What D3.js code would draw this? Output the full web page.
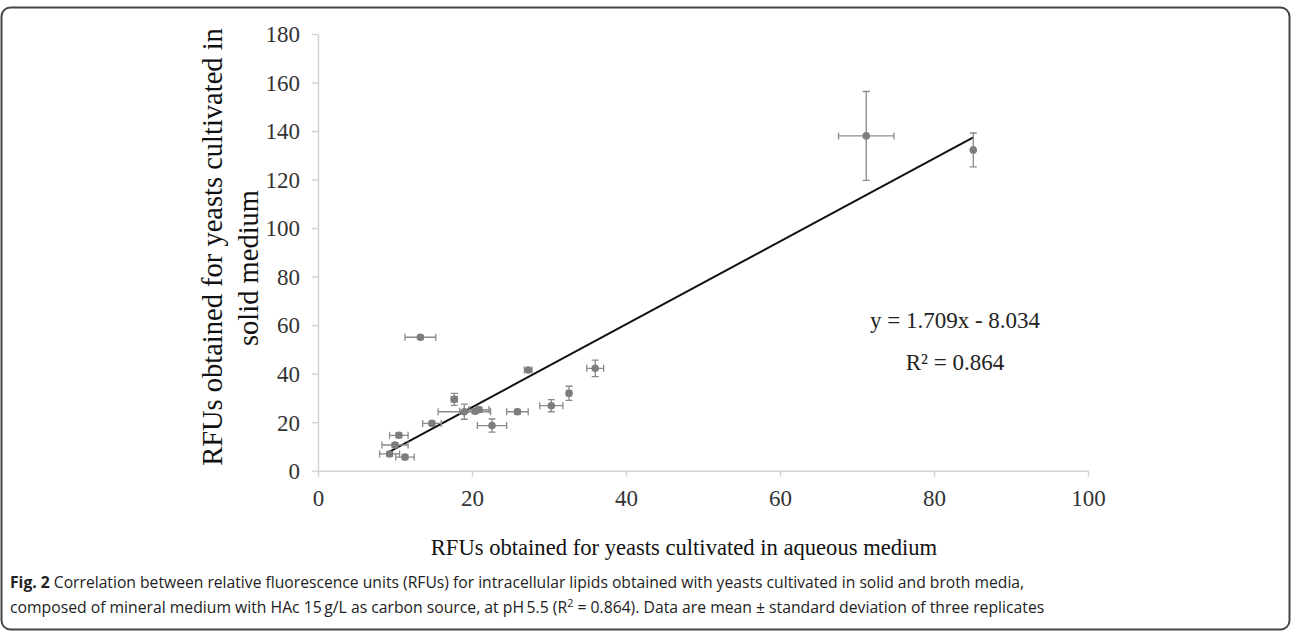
<!DOCTYPE html>
<html>
<head>
<meta charset="utf-8">
<script src="https://cdn.jsdelivr.net/npm/d3@7/dist/d3.min.js"></script>
<style>
  body { margin: 0; background: #fff; }
  svg { display: block; }
</style>
</head>
<body>
<svg id="chart" width="1292" height="632"></svg>
<script>
// ---- data ----
var aqueous = [13.3, 27.3, 36.0, 32.6, 30.3, 25.9, 17.7, 19.0, 20.4, 20.9, 22.6, 14.8, 10.5, 10.0, 9.3, 11.3, 71.2, 85.1];
var solid   = [55.0, 41.5, 42.2, 31.9, 26.8, 24.3, 29.4, 24.3, 24.5, 25.2, 18.6, 19.5, 14.6, 10.6, 6.9, 5.6, 138.0, 132.2];
var aqueousSD = [2.0, 0.5, 1.1, 0.3, 1.5, 1.4, 0.4, 3.4, 2.0, 1.3, 1.9, 1.2, 1.2, 1.7, 1.3, 1.2, 3.6, 0.2];
var solidSD   = [0.8, 0.5, 3.4, 2.9, 2.5, 1.0, 2.5, 3.1, 1.0, 1.0, 2.7, 0.8, 1.0, 1.0, 1.0, 1.0, 18.3, 7.0];
var xTicks = [0, 20, 40, 60, 80, 100];
var yTicks = [0, 20, 40, 60, 80, 100, 120, 140, 160, 180];
var slope = 1.709, intercept = -8.034;
var eqLabels = ["y = 1.709x - 8.034", "R\u00b2 = 0.864"];
var xTitle = "RFUs obtained for yeasts cultivated in aqueous medium";
var yTitle = ["RFUs obtained for yeasts cultivated in", "solid medium"];

var svg = d3.select("#chart");
var serif = "'Liberation Serif', 'Times New Roman', serif";
var axisGrey = "#d4d4d4", barGrey = "#8a8a8a", dotGrey = "#7d7d7d";

// frame
svg.append("rect")
  .attr("x", 1.5).attr("y", 7.5)
  .attr("width", 1288).attr("height", 622)
  .attr("rx", 9)
  .attr("fill", "none")
  .attr("stroke", "#444")
  .attr("stroke-width", 2);

var x = d3.scaleLinear().domain([0, 100]).range([318, 1088]);
var y = d3.scaleLinear().domain([0, 180]).range([470.7, 34]);

// axes
var gx = svg.append("g")
  .attr("transform", "translate(0," + y(0) + ")")
  .call(d3.axisBottom(x).tickValues(xTicks).tickSize(6).tickPadding(12).tickSizeOuter(0));
var gy = svg.append("g")
  .attr("transform", "translate(" + x(0) + ",0)")
  .call(d3.axisLeft(y).tickValues(yTicks).tickSize(6).tickPadding(12).tickSizeOuter(0));

[gx, gy].forEach(function(g) {
  g.select(".domain").attr("stroke", axisGrey).attr("stroke-width", 1.5);
  g.selectAll(".tick line").attr("stroke", axisGrey).attr("stroke-width", 1.5);
  g.selectAll(".tick text")
    .attr("fill", "#333")
    .style("font-family", serif)
    .style("font-size", "23px");
});
gy.selectAll(".tick text").attr("dy", "0.34em");
gx.selectAll(".tick text").attr("dy", "0.75em");

// trend line
var xr = d3.extent(aqueous);
svg.append("line")
  .attr("x1", x(xr[0])).attr("y1", y(slope * xr[0] + intercept))
  .attr("x2", x(xr[1])).attr("y2", y(slope * xr[1] + intercept))
  .attr("stroke", "#111")
  .attr("stroke-width", 2);

// error bars
var pts = aqueous.map(function(v, i) {
  return { x: v, y: solid[i], sx: aqueousSD[i], sy: solidSD[i] };
});
var cap = 3.5;
var eb = svg.append("g").attr("stroke", barGrey).attr("stroke-width", 1.3).attr("fill", "none");
pts.forEach(function(d) {
  var cx = x(d.x), cy = y(d.y);
  var x1 = x(d.x - d.sx), x2 = x(d.x + d.sx);
  var y1 = y(d.y - d.sy), y2 = y(d.y + d.sy);
  eb.append("path").attr("d",
    "M" + x1 + "," + cy + "H" + x2 +
    "M" + x1 + "," + (cy - cap) + "V" + (cy + cap) +
    "M" + x2 + "," + (cy - cap) + "V" + (cy + cap) +
    "M" + cx + "," + y1 + "V" + y2 +
    "M" + (cx - cap) + "," + y1 + "H" + (cx + cap) +
    "M" + (cx - cap) + "," + y2 + "H" + (cx + cap));
});

// markers
svg.append("g").selectAll("circle")
  .data(pts)
  .enter()
  .append("circle")
  .attr("cx", function(d) { return x(d.x); })
  .attr("cy", function(d) { return y(d.y); })
  .attr("r", 3.8)
  .attr("fill", dotGrey);

// equation
svg.append("g").selectAll("text")
  .data(eqLabels)
  .enter()
  .append("text")
  .attr("x", 955)
  .attr("y", function(d, i) { return 328 + i * 42; })
  .attr("text-anchor", "middle")
  .style("font-family", serif)
  .style("font-size", "23px")
  .attr("fill", "#222")
  .text(function(d) { return d; });

// axis titles
svg.append("text")
  .attr("x", 684).attr("y", 555)
  .attr("text-anchor", "middle")
  .style("font-family", serif)
  .style("font-size", "22.6px")
  .attr("fill", "#111")
  .text(xTitle);

var yCenters = [[222, 247], [258, 268]];
svg.append("g").selectAll("text")
  .data(yTitle)
  .enter()
  .append("text")
  .attr("transform", function(d, i) {
    return "translate(" + yCenters[i][0] + "," + yCenters[i][1] + ") rotate(-90)";
  })
  .attr("text-anchor", "middle")
  .style("font-family", serif)
  .style("font-size", "28.5px")
  .attr("fill", "#111")
  .text(function(d) { return d; });

// caption
var sans = "'Open Sans', 'Noto Sans', sans-serif";
function captionLine(yPos, targetW, build) {
  var g = svg.append("g");
  var t = g.append("text")
    .attr("x", 0).attr("y", 0)
    .style("font-family", sans)
    .style("font-size", "16px")
    .attr("fill", "#222");
  build(t);
  var w = t.node().getComputedTextLength();
  g.attr("transform", "translate(10," + yPos + ") scale(" + (targetW / w) + ",1)");
}
captionLine(588, 1015, function(t) {
  t.append("tspan").style("font-weight", "bold").text("Fig. 2");
  t.append("tspan").text(" Correlation between relative fluorescence units (RFUs) for intracellular lipids obtained with yeasts cultivated in solid and broth media,");
});
captionLine(613, 1035, function(t) {
  t.append("tspan").text("composed of mineral medium with HAc 15\u2009g/L as carbon source, at pH\u20095.5 (R");
  t.append("tspan").attr("dy", -6).style("font-size", "11px").text("2");
  t.append("tspan").attr("dy", 6).text(" = 0.864). Data are mean \u00b1 standard deviation of three replicates");
});
</script>
</body>
</html>
